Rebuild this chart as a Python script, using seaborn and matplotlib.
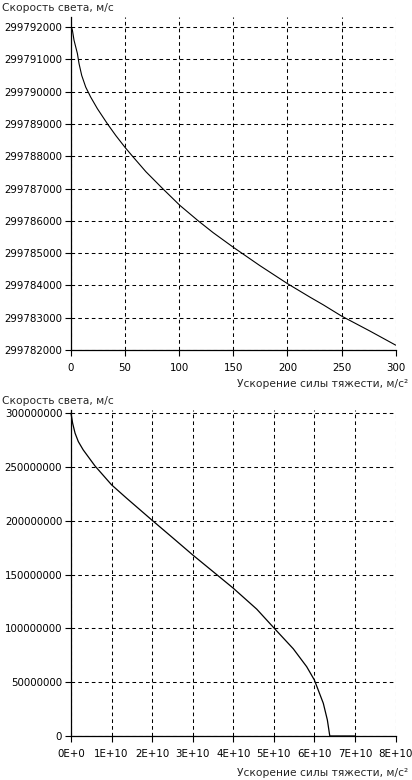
import matplotlib
matplotlib.use("Agg")
import matplotlib.pyplot as plt
import matplotlib.ticker as mticker
import seaborn as sns
import pandas as pd

# ---- data ----
g_small = [0, 1.3, 2.8, 5.9, 7.4, 9.9, 13.6, 18.2, 24.4, 33.7, 41.4, 50, 56.8,
           69.2, 84.6, 100.5, 117.5, 131.3, 150.4, 174.4, 200, 220.6, 233, 250,
           276, 300]
c_small = [299792050, 299791900, 299791590, 299791180, 299790870, 299790500,
           299790140, 299789830, 299789470, 299789000, 299788640, 299788270,
           299788000, 299787520, 299787000, 299786480, 299786000, 299785634,
           299785170, 299784615, 299784055, 299783640, 299783400, 299783050,
           299782590, 299782150]

g_big = [0, 0.04e10, 0.1e10, 0.18e10, 0.30e10, 0.59e10, 1.0e10, 1.37e10, 1.99e10,
         2.52e10, 3.0e10, 3.57e10, 4.0e10, 4.58e10, 5.0e10, 5.48e10, 5.81e10,
         6.0e10, 6.22e10, 6.32e10, 6.38e10, 6.6e10, 7.0e10]
c_big = [299792458, 290600000, 281300000, 273500000, 265800000, 250900000,
         233300000, 220900000, 200700000, 183700000, 168200000, 150600000,
         137300000, 117800000, 100500000, 81000000, 64400000, 52000000,
         30400000, 14900000, 0, 0, 0]

x_ticks_small = [0, 50, 100, 150, 200, 250, 300]
y_ticks_small = [299782000, 299783000, 299784000, 299785000, 299786000,
                 299787000, 299788000, 299789000, 299790000, 299791000, 299792000]
x_ticks_big = [0, 1e10, 2e10, 3e10, 4e10, 5e10, 6e10, 7e10, 8e10]
x_labels_big = ["0E+0", "1E+10", "2E+10", "3E+10", "4E+10", "5E+10", "6E+10", "7E+10", "8E+10"]
y_ticks_big = [0, 50000000, 100000000, 150000000, 200000000, 250000000, 300000000]

y_title = "Скорость света, м/с"
x_title = "Ускорение силы тяжести, м/с²"

sns.set_style("white")
plt.rcParams["font.family"] = ["DejaVu Sans"]
plt.rcParams["font.size"] = 7.4

W, H = 412, 780
fig = plt.figure(figsize=(W / 100, H / 100), dpi=100)

def ax_at(l, r, t, b):
    return fig.add_axes([l / W, 1 - b / H, (r - l) / W, (b - t) / H])

ax1 = ax_at(71, 395.7, 17, 350)
ax2 = ax_at(71, 395.5, 410, 736)

df1 = pd.DataFrame({"g": g_small, "c": c_small})
df2 = pd.DataFrame({"g": g_big, "c": c_big})
sns.lineplot(data=df1, x="g", y="c", ax=ax1, color="black", linewidth=0.8)
sns.lineplot(data=df2, x="g", y="c", ax=ax2, color="black", linewidth=0.9, clip_on=False)

def style(ax):
    for s in ["top", "right"]:
        ax.spines[s].set_visible(False)
    for s in ["left", "bottom"]:
        ax.spines[s].set_color("black")
        ax.spines[s].set_linewidth(0.9)
    ax.grid(True, color="black", linestyle=(0, (3.5, 3)), linewidth=0.75)
    ax.set_axisbelow(True)
    ax.tick_params(axis="both", direction="out", length=4.3, width=0.8,
                   color="black", labelcolor="black", labelsize=7.4,
                   bottom=True, left=True)
    ax.tick_params(axis="x", pad=5)
    ax.tick_params(axis="y", pad=2)
    ax.set_xlabel("")
    ax.set_ylabel("")

ax1.set_xlim(0, 300)
ax1.set_ylim(299782000, 299792310)
ax1.set_xticks(x_ticks_small)
ax1.set_yticks(y_ticks_small)
ax1.yaxis.set_major_formatter(mticker.FuncFormatter(lambda v, p: f"{int(round(v))}"))
style(ax1)

ax2.set_xlim(0, 8e10)
ax2.set_ylim(0, 302800000)
ax2.set_xticks(x_ticks_big)
ax2.set_xticklabels(x_labels_big)
ax2.set_yticks(y_ticks_big)
ax2.yaxis.set_major_formatter(mticker.FuncFormatter(lambda v, p: f"{int(round(v))}"))
style(ax2)

fs_t = 7.7
fig.text(2 / W, 1 - 8 / H, y_title, ha="left", va="center", fontsize=fs_t)
fig.text(408 / W, 1 - 384 / H, x_title, ha="right", va="center", fontsize=fs_t)
fig.text(2 / W, 1 - 401 / H, y_title, ha="left", va="center", fontsize=fs_t)
fig.text(408 / W, 1 - 773 / H, x_title, ha="right", va="center", fontsize=fs_t)

fig.savefig("out.png", dpi=100, facecolor="white")
